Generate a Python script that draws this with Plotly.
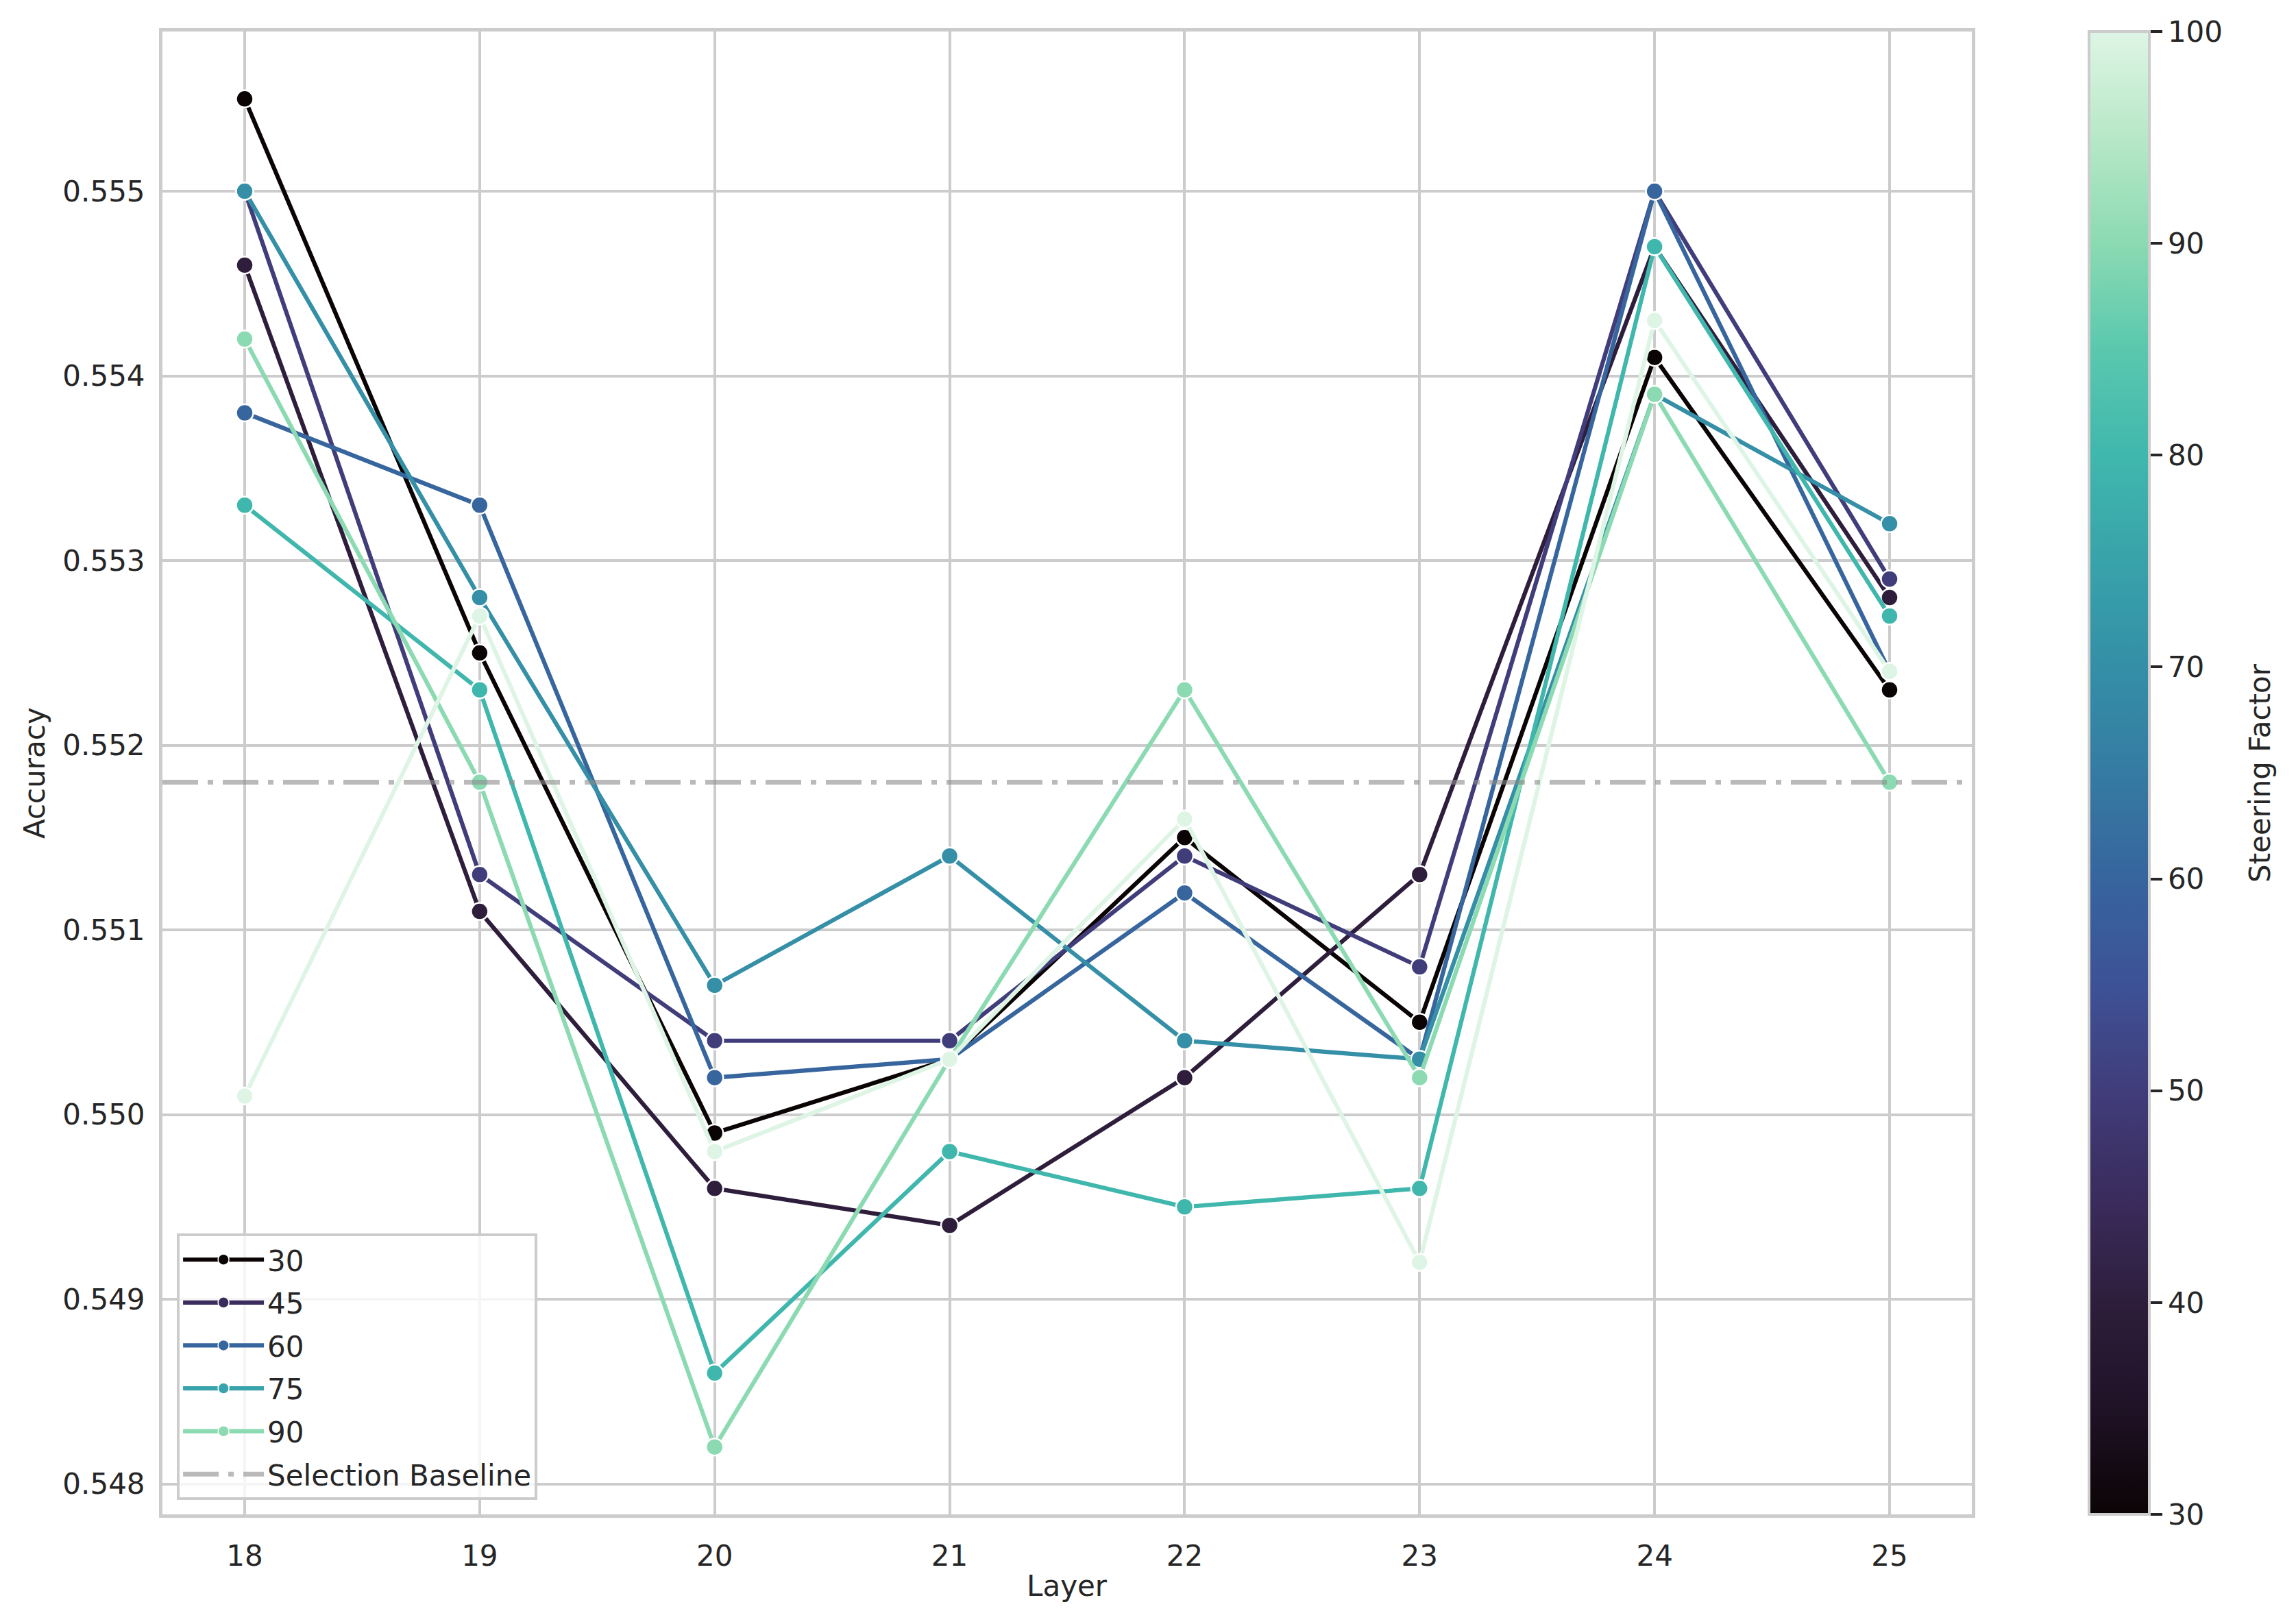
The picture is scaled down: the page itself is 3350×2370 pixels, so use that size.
import plotly.graph_objects as go
from plotly.colors import sample_colorscale

# ---------------- data ----------------
layers = [18, 19, 20, 21, 22, 23, 24, 25]
steering_factors = [30, 40, 50, 60, 70, 80, 90, 100]
acc_30 = [0.5555, 0.5525, 0.5499, 0.5503, 0.5515, 0.5505, 0.5541, 0.5523]
acc_40 = [0.5546, 0.5511, 0.5496, 0.5494, 0.5502, 0.5513, 0.5547, 0.5528]
acc_50 = [0.5550, 0.5513, 0.5504, 0.5504, 0.5514, 0.5508, 0.5550, 0.5529]
acc_60 = [0.5538, 0.5533, 0.5502, 0.5503, 0.5512, 0.5503, 0.5550, 0.5524]
acc_70 = [0.5550, 0.5528, 0.5507, 0.5514, 0.5504, 0.5503, 0.5539, 0.5532]
acc_80 = [0.5533, 0.5523, 0.5486, 0.5498, 0.5495, 0.5496, 0.5547, 0.5527]
acc_90 = [0.5542, 0.5518, 0.5482, 0.5503, 0.5523, 0.5502, 0.5539, 0.5518]
acc_100 = [0.5501, 0.5527, 0.5498, 0.5503, 0.5516, 0.5492, 0.5543, 0.5524]
series = [acc_30, acc_40, acc_50, acc_60, acc_70, acc_80, acc_90, acc_100]
legend_values = [30, 45, 60, 75, 90]
selection_baseline = 0.5518
x_tick_labels = [str(v) for v in layers]
cbar_ticks = [30, 40, 50, 60, 70, 80, 90, 100]

# ---------------- style ----------------
mako = [
    [0.000, "#0B0405"], [0.071, "#1F1226"], [0.143, "#2E1E3C"], [0.214, "#3A2C5D"],
    [0.286, "#413D7B"], [0.357, "#3D5296"], [0.429, "#37659E"], [0.500, "#357BA2"],
    [0.571, "#348FA7"], [0.643, "#38A3AA"], [0.714, "#40B7AD"], [0.786, "#5AC8AE"],
    [0.857, "#8BDAB2"], [0.929, "#B8E8C7"], [1.000, "#DEF5E5"],
]
vmin, vmax = min(steering_factors), max(steering_factors)


def col(v):
    return sample_colorscale(mako, [(v - vmin) / (vmax - vmin)])[0]


FONT = "DejaVu Sans"
TXT = "#262626"
GRID = "#cccccc"
FS = 42
W, H = 3350, 2370
L, T = 229, 38
R, B = 3350 - 2869, 2370 - 2202
PW = W - L - R
PH = H - T - B

all_vals = [v for s in series for v in s]
ylo, yhi = min(all_vals), max(all_vals)
yspan = yhi - ylo
y_range = [ylo - 0.05 * yspan, yhi + 0.05 * yspan]
xspan = max(layers) - min(layers)
x_range = [min(layers) - 0.05 * xspan, max(layers) + 0.05 * xspan]

fig = go.Figure()

for sf, acc in zip(steering_factors, series):
    c = col(sf)
    fig.add_trace(go.Scatter(
        x=layers, y=acc, mode="lines+markers", name=str(sf), showlegend=False,
        line=dict(color=c, width=6.2),
        marker=dict(color=c, size=25, line=dict(color="white", width=2.5)),
    ))

# legend entries (brief legend)
for lv in legend_values:
    c = col(lv)
    fig.add_trace(go.Scatter(
        x=[None], y=[None], mode="lines+markers", name=str(lv),
        legendgroup="g" + str(lv),
        line=dict(color=c, width=6.2),
        marker=dict(color=c, size=16, line=dict(color="white", width=1.5)),
    ))

# selection baseline
fig.add_trace(go.Scatter(
    x=x_range, y=[selection_baseline, selection_baseline], mode="lines",
    name="Selection Baseline", legendgroup="gbase",
    line=dict(color="rgba(140,140,140,0.6)", width=7, dash="52px,14px,8px,14px"),
))

# colorbar carrier
fig.add_trace(go.Scatter(
    x=[None], y=[None], mode="markers", showlegend=False, hoverinfo="skip",
    marker=dict(
        color=[vmin], cmin=vmin, cmax=vmax, colorscale=mako, showscale=True,
        colorbar=dict(
            x=(3040 - L) / PW, xanchor="left", xpad=0, ypad=0,
            y=0.5, yanchor="middle", len=1.0, lenmode="fraction",
            thickness=88, thicknessmode="pixels",
            outlinecolor=GRID, outlinewidth=4,
            tickvals=cbar_ticks, ticktext=[str(t) for t in cbar_ticks],
            ticks="outside", ticklen=17, tickwidth=4, tickcolor=TXT,
            tickfont=dict(family=FONT, size=FS, color=TXT),
        ),
    ),
))

# axis / colorbar titles
fig.add_annotation(
    text="Steering Factor", xref="paper", yref="paper",
    x=(3289 - L) / PW, y=0.5, xanchor="center", yanchor="middle",
    textangle=-90, showarrow=False,
    font=dict(family=FONT, size=FS, color=TXT),
)
fig.add_annotation(
    text="Accuracy", xref="paper", yref="paper",
    x=(42 - L) / PW, y=0.5, xanchor="center", yanchor="middle",
    textangle=-90, showarrow=False,
    font=dict(family=FONT, size=FS, color=TXT),
)
fig.add_annotation(
    text="Layer", xref="paper", yref="paper",
    x=0.5, y=-(2307 - T - PH) / PH, xanchor="center", yanchor="middle",
    showarrow=False,
    font=dict(family=FONT, size=FS, color=TXT),
)

fig.update_layout(
    width=W, height=H,
    margin=dict(l=L, r=R, t=T, b=B, pad=0, autoexpand=False),
    paper_bgcolor="white", plot_bgcolor="white",
    font=dict(family=FONT, size=FS, color=TXT),
    showlegend=True,
    legend=dict(
        x=0.008, y=0.0095, xanchor="left", yanchor="bottom",
        bgcolor="rgba(255,255,255,0.8)", bordercolor=GRID, borderwidth=4,
        font=dict(family=FONT, size=FS, color=TXT),
        itemwidth=118, tracegroupgap=5, traceorder="grouped",
    ),
    xaxis=dict(
        range=x_range, tickvals=layers, ticktext=x_tick_labels,
        showgrid=True, gridcolor=GRID, gridwidth=4,
        showline=True, linecolor=GRID, linewidth=5, mirror=True,
        zeroline=False, ticks="", ticklabelstandoff=20, automargin=False,
        tickfont=dict(family=FONT, size=FS, color=TXT),
    ),
    yaxis=dict(
        range=y_range, dtick=0.001, tick0=0.548, tickformat=".3f",
        showgrid=True, gridcolor=GRID, gridwidth=4,
        showline=True, linecolor=GRID, linewidth=5, mirror=True,
        zeroline=False, ticks="", ticklabelstandoff=12, automargin=False,
        tickfont=dict(family=FONT, size=FS, color=TXT),
    ),
)

fig.write_html("out.html")
